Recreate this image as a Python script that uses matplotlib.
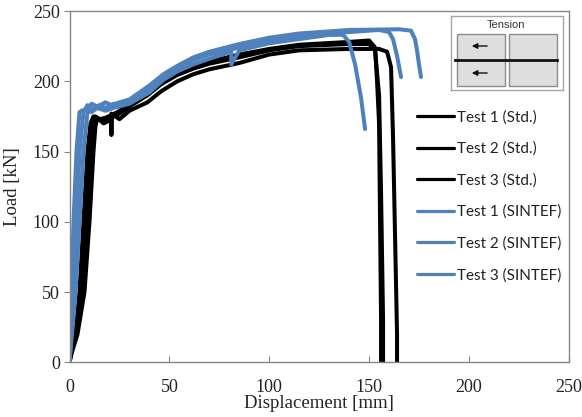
#!/usr/bin/env python3
import matplotlib
matplotlib.use("Agg")
import matplotlib.pyplot as plt
from matplotlib.patches import Rectangle

# -------------------------------
# Data
# -------------------------------
std1_x = [0, 1, 3.5, 6, 8.5, 10.5, 12, 13, 16, 19, 24, 30, 39, 46, 54, 62, 70, 85, 100, 115, 140, 150, 153, 155, 156, 157, 157]
std1_y = [0, 8, 20, 50, 100, 150, 170, 175, 172, 173, 176, 182, 190, 198, 204.5, 209, 212.5, 217, 222, 225, 226.5, 226.5, 222, 190, 120, 30, 0]
std2_x = [0, 1, 3, 5, 7, 9, 10.5, 12, 15, 18, 24, 30, 39, 46, 54, 62, 70, 85, 100, 115, 140, 150, 153, 154, 155, 156, 156]
std2_y = [0, 8, 20, 50, 100, 150, 170, 175, 173, 174, 178, 184, 192, 200, 206, 210.5, 214, 219, 223, 226, 228, 229, 224, 200, 170, 30, 0]
std3_x = [0, 1, 4, 7.5, 10, 12, 13, 14, 17, 20, 21, 21, 21, 25, 30, 39, 46, 54, 62, 70, 85, 100, 115, 140, 155, 159, 161, 162, 163, 164, 164]
std3_y = [0, 6, 20, 50, 100, 150, 168, 174, 170, 172, 173, 162, 177, 173, 179, 185, 193, 200, 205, 208.5, 213, 219, 222, 223, 223, 221, 210, 160, 90, 20, 0]

sin1_x = [0, 1, 2, 3.5, 5, 6, 8, 11, 14, 18, 22, 30, 40, 47, 54, 62, 70, 81, 81, 85, 100, 115, 130, 137, 140, 143, 146, 148]
sin1_y = [0, 50, 100, 150, 178, 179, 180, 178, 181, 179, 181, 184, 192, 201, 207, 212, 216, 221, 212, 222, 227, 230, 233, 233, 228, 212, 188, 166]
sin2_x = [0, 2, 3.5, 5, 7, 9, 12, 15, 18, 22, 26, 30, 40, 47, 54, 62, 70, 85, 100, 115, 140, 155, 160, 162, 164, 166]
sin2_y = [0, 50, 100, 150, 178, 183, 180, 183, 181, 184, 183, 186, 195, 203, 209, 215, 219, 224, 229, 232, 235, 236.5, 235, 230, 218, 203]
sin3_x = [0, 3, 5, 7, 9, 11, 14, 18, 21, 25, 30, 40, 47, 54, 62, 70, 85, 100, 115, 140, 165, 171, 173, 174, 175, 176]
sin3_y = [0, 50, 100, 150, 178, 184, 182, 185, 183, 185, 187, 197, 205, 211, 217, 221, 226.5, 231, 234, 236.5, 237, 236, 230, 222, 212, 203]

x_ticks = [0, 50, 100, 150, 200, 250]
y_ticks = [0, 50, 100, 150, 200, 250]
labels = ["Test 1 (Std.)", "Test 2 (Std.)", "Test 3 (Std.)",
          "Test 1 (SINTEF)", "Test 2 (SINTEF)", "Test 3 (SINTEF)"]

# -------------------------------
# Figure
# -------------------------------
W, H = 582, 417
BLACK = "#000000"
BLUE = "#4f81bd"
GREY = "#868686"

fig = plt.figure(figsize=(W / 100, H / 100), dpi=100)
ax = fig.add_axes([69.5 / W, 1 - 362.3 / H, 499.3 / W, 351.3 / H])

series = [(std1_x, std1_y, BLACK), (std2_x, std2_y, BLACK), (std3_x, std3_y, BLACK),
          (sin1_x, sin1_y, BLUE), (sin2_x, sin2_y, BLUE), (sin3_x, sin3_y, BLUE)]
for (xs, ys, col), lab in zip(series, labels):
    ax.plot(xs, ys, color=col, lw=2.9, label=lab, solid_capstyle="round", solid_joinstyle="round")

ax.set_xlim(0, 250)
ax.set_ylim(0, 250)
ax.set_xticks(x_ticks)
ax.set_yticks(y_ticks)
for s in ax.spines.values():
    s.set_color(GREY)
    s.set_linewidth(1.0)
ax.tick_params(axis="x", direction="in", length=4, color=GREY, pad=12)
ax.tick_params(axis="y", direction="out", length=4, color=GREY, pad=3)
for t in ax.get_xticklabels() + ax.get_yticklabels():
    t.set_fontfamily("Liberation Serif")
    t.set_fontsize(13)
    t.set_color("#222222")

fig.text(319 / W, 1 - 403 / H, "Displacement [mm]", family="Liberation Serif", fontsize=13.5,
         ha="center", va="center", color="#222222")
fig.text(12 / W, 1 - 187 / H, "Load [kN]", family="Liberation Serif", fontsize=13.5,
         ha="center", va="center", rotation=90, color="#222222")

leg = ax.legend(loc="upper left", bbox_to_anchor=(417 / W, 1 - 110 / H), bbox_transform=fig.transFigure,
                frameon=False, prop={"family": "Lato", "size": 11}, handlelength=2.45,
                handletextpad=0.15, labelspacing=1.13, borderpad=0, borderaxespad=0)
for t in leg.get_texts():
    t.set_color("#222222")
for l in leg.get_lines():
    l.set_linewidth(2.3)

# -------------------------------
# Petit schema "Tension"
# -------------------------------
inset = fig.add_axes([451 / W, 1 - 90 / H, 112 / W, 74 / H])
inset.set_xlim(451, 563)
inset.set_ylim(90, 16)
inset.set_xticks([])
inset.set_yticks([])
for s in inset.spines.values():
    s.set_color("#a6a6a6")
    s.set_linewidth(1.0)
inset.add_patch(Rectangle((457, 34), 48, 52, fc="#dedede", ec="#8c8c8c", lw=1.0))
inset.add_patch(Rectangle((509, 34), 48, 52, fc="#dedede", ec="#8c8c8c", lw=1.0))
inset.plot([455, 557], [60, 60], color="#111111", lw=2.0)
for yy in (46, 73):
    inset.annotate("", xy=(469, yy), xytext=(490, yy),
                   arrowprops=dict(arrowstyle="-|>", color="#111111", lw=1.0, mutation_scale=8))
inset.text(506, 25.5, "Tension", family="Liberation Sans", fontsize=8, ha="center", va="center", color="#333333")

plt.savefig("out.png", dpi=100)
